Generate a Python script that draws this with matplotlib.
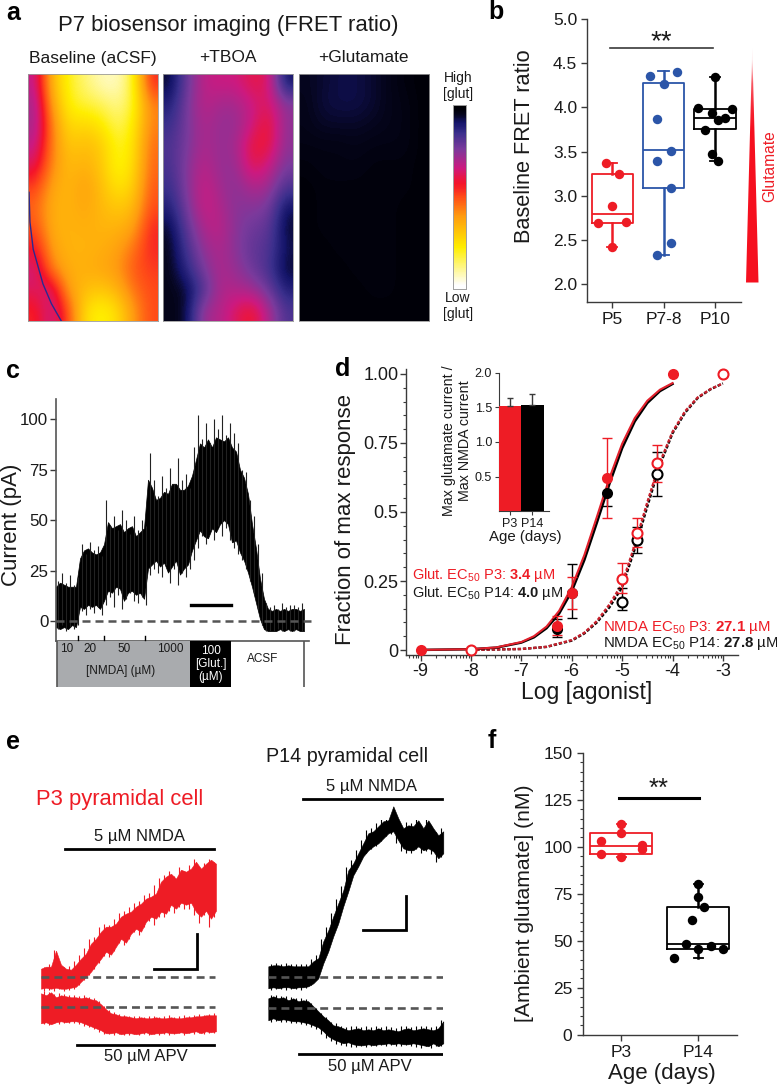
import numpy as np
import matplotlib
matplotlib.use('Agg')
import matplotlib.pyplot as plt
from matplotlib.colors import LinearSegmentedColormap
from matplotlib.patches import Polygon, Rectangle
from matplotlib.ticker import FixedLocator, NullFormatter

plt.rcParams['font.family'] = ['Liberation Sans', 'DejaVu Sans']
plt.rcParams['mathtext.fontset'] = 'custom'
plt.rcParams['mathtext.rm'] = 'Liberation Sans'
plt.rcParams['mathtext.bf'] = 'Liberation Sans:bold'
plt.rcParams['mathtext.default'] = 'regular'

W, H = 777, 1087
RED = '#ee1c25'
BLUE = '#2b55a8'
INK = '#1a1a1a'
AXC = '#3a3a3a'
DASH = '#555555'

# ---------- panel a data ----------
baseline_grid = [
    [.68, .30, .16, .10, .05, .04, .14, .55],
    [.72, .36, .17, .14, .12, .08, .14, .42],
    [.72, .42, .22, .24, .20, .11, .18, .42],
    [.68, .42, .27, .30, .27, .15, .20, .45],
    [.62, .40, .30, .33, .28, .15, .22, .46],
    [.52, .35, .31, .37, .30, .20, .25, .48],
    [.46, .33, .32, .35, .31, .27, .30, .50],
    [.50, .33, .32, .33, .32, .32, .36, .55],
    [.58, .36, .32, .32, .33, .36, .44, .55],
    [.66, .42, .33, .33, .35, .38, .48, .52],
    [.62, .66, .36, .30, .27, .32, .44, .50],
    [.55, .68, .50, .22, .16, .22, .38, .50],
]
tboa_grid = [
    [.97, .80, .68, .66, .66, .60, .62, .95],
    [.92, .78, .68, .72, .72, .66, .62, .75],
    [.88, .78, .70, .74, .74, .66, .56, .75],
    [.85, .78, .70, .74, .72, .58, .58, .75],
    [.86, .76, .68, .74, .74, .60, .66, .78],
    [.88, .76, .66, .72, .76, .70, .72, .85],
    [.92, .78, .66, .70, .76, .76, .78, .95],
    [.97, .82, .70, .68, .76, .80, .82, .97],
    [.98, .86, .74, .70, .76, .82, .84, .95],
    [.98, .90, .78, .70, .74, .80, .86, .97],
    [.98, .97, .85, .70, .70, .72, .80, .92],
    [.98, .97, .72, .70, .62, .56, .70, .85],
]
glut_grid = [
    [.975, .965, .955, .955, .965, .98, .99, .995],
    [.98, .96, .955, .955, .965, .98, .985, .995],
    [.98, .97, .97, .97, .975, .98, .985, .995],
    [.985, .985, .985, .98, .985, .985, .985, .995],
    [.99, .985, .985, .985, .99, .99, .99, .995],
    [.995, .99, .99, .99, .99, .99, .99, .995],
    [.995, .99, .99, .99, .99, .99, .995, .995],
    [.995, .99, .99, .99, .99, .99, .995, .995],
    [.995, .995, .99, .99, .99, .99, .995, .995],
    [.995, .995, .995, .99, .99, .99, .995, .995],
    [.995, .995, .995, .995, .99, .99, .995, .995],
    [.995, .995, .995, .995, .995, .995, .995, .995],
]
cbar_levels = [0, .03, .06, .09, .12, .15, .18, .22, .26, .30, .34, .38, .42, .46, .50, .54, .57, .60,
               .64, .68, .72, .76, .80, .84, .88, .92, .95, .98, 1]
edge_x = [.008, .015, .04, .115, .18, .256]
edge_y = [.48, .60, .71, .85, .93, 1.0]
image_titles = ['Baseline (aCSF)', '+TBOA', '+Glutamate']

# ---------- panel b data ----------
b_labels = ['P5', 'P7-8', 'P10']
b_stats = [(2.42, 2.69, 2.79, 3.25, 3.37), (2.33, 3.09, 3.52, 4.28, 4.41), (3.39, 3.755, 3.88, 3.985, 4.34)]
p5_x = [-.13, .136, 0, -.27, .27, 0]
p5_y = [3.37, 3.245, 2.88, 2.69, 2.70, 2.42]
p78_x = [-.27, .27, 0, -.13, .136, -.13, .136, .136, -.13]
p78_y = [4.36, 4.40, 4.27, 3.87, 3.51, 3.39, 3.09, 2.47, 2.33]
p10_x = [0, -.33, .34, -.065, .2, .065, -.195, -.065, .065]
p10_y = [4.34, 3.99, 3.985, 3.94, 3.88, 3.86, 3.75, 3.47, 3.39]

# ---------- panel c data (time, dense core and spike peaks of the current in pA) ----------
c_hi = [17, 19, 18, 17, 17, 17, 31, 35, 36, 34, 33, 34, 38, 49, 46, 47, 48, 44, 46, 47, 42, 44, 46, 70, 66, 60, 61,
        64, 63, 68, 68, 65, 65, 67, 72, 80, 88, 86, 90, 86, 91, 90, 89, 91, 86, 84, 75, 71, 63, 48, 36, 21, 11,
        6, 5, 6, 5, 6, 5, 6, 6, 5, 6]
c_lo = [-3, -4, -3, -4, -2, -3, 7, 6, 8, 7, 8, 6, 10, 15, 14, 17, 16, 10, 14, 15, 13, 14, 11, 26, 28, 30, 27, 29,
        24, 27, 30, 23, 26, 28, 35, 40, 45, 42, 41, 46, 44, 48, 50, 48, 39, 40, 34, 30, 24, 17, 9, 1, -4,
        -5, -5, -5, -4, -5, -4, -5, -4, -5, -5]
c_spike_hi = [20, 24, 19, 23, 18, 22, 38, 33, 39, 35, 37, 32, 60, 47, 52, 45, 55, 50, 43, 52, 45, 50, 47, 83, 70, 62,
              72, 66, 76, 68, 81, 70, 73, 66, 86, 102, 90, 98, 88, 100, 95, 102, 92, 98, 93, 88, 75, 74, 60, 52, 38,
              24, 9, 7, 8, 6, 9, 7, 8, 8, 7, 9, 8]
c_spike_lo = [-4, -2, -5, -3, -4, -2, 5, 3, 6, 4, 7, 3, 8, 12, 7, 13, 6, 11, 14, 10, 9, 12, 8, 23, 26, 24, 22, 28, 19,
              26, 18, 24, 22, 26, 30, 36, 42, 38, 45, 40, 47, 42, 46, 40, 36, 33, 30, 26, 20, 14, 6, -2, -5,
              -5, -5, -4, -5, -4, -5, -5, -4, -5, -5]
c_time = [4 * k for k in range(len(c_hi))]
c_spike_time = [4 * k + 2 for k in range(len(c_hi))]
c_ticks = [0, 25, 50, 75, 100]

# ---------- panel d data ----------
glut_log = [-9, -8, -7.5, -7, -6.75, -6.5, -6.25, -6, -5.75, -5.5, -5.25, -5, -4.75, -4.5, -4.25, -4]
glut_fit_p3 = [.0003, .003, .0093, .029, .05, .085, .142, .228, .344, .483, .624, .747, .84, .903, .943, .967]
glut_fit_p14 = [.0003, .0028, .0085, .027, .046, .079, .132, .213, .326, .462, .603, .731, .828, .895, .938, .964]
nmda_log = [-8, -7, -6.5, -6, -5.75, -5.5, -5.25, -5, -4.75, -4.5, -4.25, -4, -3.75, -3.5, -3.25, -3]
nmda_fit_p3 = [.0004, .0037, .0116, .036, .0625, .105, .165, .24, .38, .535, .68, .79, .865, .915, .945, .966]
nmda_fit_p14 = [.0004, .0036, .0112, .034, .06, .10, .155, .228, .365, .52, .67, .785, .86, .913, .944, .966]

g3_x = [-9, -6.3, -6, -5.3, -4]
g3_y = [0, .087, .208, .622, 1.0]
g3_up = [0, .124, .266, .767, 1.0]
g3_dn = [0, .055, .147, .477, 1.0]
g14_x = [-6.3, -6, -5.3]
g14_y = [.075, .208, .568]
g14_up = [.111, .312, .622]
g14_dn = [.048, .115, .522]
n3_x = [-8, -5, -4.7, -4.3, -3]
n3_y = [0, .258, .425, .676, 1.0]
n3_up = [0, .314, .477, .743, 1.0]
n3_dn = [0, .205, .374, .61, 1.0]
n14_x = [-5, -4.7, -4.3]
n14_y = [.175, .399, .638]
n14_up = [.223, .447, .718]
n14_dn = [.145, .35, .559]

inset_labels = ['P3', 'P14']
inset_vals = [1.52, 1.53]
inset_err = [.12, .16]

# ---------- panel e data (arbitrary current units, envelopes every 5 time units, spikes midway) ----------
e_time = [5 * k for k in range(36)]
e_spike_time = [5 * k + 2.5 for k in range(35)]
p3_nmda_hi = [8, 10, 10, 26, 12, 8, 7, 12, 18, 23, 33, 38, 45, 50, 50, 53, 60, 63, 65, 70, 73, 78, 80, 83, 95, 100,
              103, 98, 107, 105, 108, 115, 108, 113, 117, 113]
p3_nmda_lo = [-12, -11, -12, -11, -12, -12, -11, -10, -5, 0, 5, 12, 18, 25, 22, 30, 38, 34, 43, 48, 45, 55, 60, 58,
              65, 63, 72, 68, 74, 72, 74, 65, 60, 66, 58, 66]
p3_nmda_spike_hi = [10, 13, 27, 14, 10, 11, 16, 22, 29, 38, 40, 50, 53, 52, 58, 64, 66, 70, 74, 76, 82, 84, 92, 99,
                    102, 106, 101, 110, 106, 112, 118, 110, 114, 118, 115]
p3_nmda_spike_lo = [-14, -13, -14, -12, -14, -13, -12, -8, -3, 2, 8, 14, 21, 20, 26, 34, 32, 38, 45, 42, 50, 56, 52,
                    60, 60, 66, 64, 70, 68, 68, 62, 54, 62, 50, 60]
p3_apv_hi = [14, 12, 15, 10, 12, 11, 10, 10, 9, 10, 8, 7, 3, -2, -6, -7, -9, -9, -10, -11, -10, -11, -11, -10, -11,
             -11, -10, -11, -11, -10, -10, -9, -9, -8, -8, -8]
p3_apv_lo = [-16, -15, -17, -15, -14, -15, -14, -14, -15, -17, -19, -21, -23, -26, -26, -25, -27, -26, -26, -27, -26,
             -25, -27, -26, -26, -25, -26, -26, -25, -26, -25, -24, -26, -24, -25, -24]
p3_apv_spike_hi = [16, 15, 13, 14, 13, 12, 12, 11, 12, 10, 9, 6, 1, -3, -5, -7, -8, -9, -9, -9, -10, -9, -9, -10, -9,
                   -8, -10, -9, -8, -9, -8, -7, -8, -7, -6]
p3_apv_spike_lo = [-17, -18, -16, -17, -16, -16, -16, -17, -19, -20, -22, -25, -27, -27, -28, -27, -28, -28, -27, -28,
                   -27, -28, -27, -28, -27, -28, -27, -26, -28, -26, -27, -26, -27, -26, -26]
p14_nmda_hi = [11, 12, 12, 11, 12, 11, 11, 11, 11, 16, 19, 36, 47, 61, 74, 87, 107, 114, 124, 134, 144, 146, 151,
               156, 157, 171, 159, 149, 152, 151, 157, 149, 157, 149, 142, 146]
p14_nmda_lo = [-11, -10, -11, -10, -10, -11, -10, -10, -9, -6, -1, 14, 26, 41, 54, 71, 86, 102, 111, 121, 127, 131,
               134, 139, 144, 146, 137, 129, 127, 127, 131, 127, 129, 126, 119, 124]
p14_nmda_spike_hi = [13, 14, 13, 14, 13, 13, 13, 13, 18, 22, 38, 50, 64, 78, 91, 110, 117, 127, 137, 147, 149, 154,
                     159, 160, 173, 162, 152, 155, 154, 160, 152, 160, 152, 145, 149]
p14_nmda_spike_lo = [-13, -12, -12, -13, -12, -12, -13, -11, -8, -3, 10, 22, 37, 50, 66, 82, 98, 108, 118, 124, 128,
                     131, 136, 141, 143, 134, 126, 124, 124, 128, 124, 126, 123, 115, 120]
p14_apv_hi = [10, 12, 10, 11, 8, 10, 7, 8, 7, 2, -3, -8, -12, -17, -18, -20, -22, -21, -20, -22, -21, -22, -20, -22,
              -21, -22, -23, -21, -20, -22, -21, -20, -21, -22, -20, -13]
p14_apv_lo = [-12, -10, -12, -11, -12, -13, -13, -14, -15, -17, -19, -23, -28, -31, -33, -35, -34, -36, -37, -37, -36,
              -37, -36, -36, -35, -36, -35, -36, -36, -35, -36, -37, -38, -35, -38, -35]
p14_apv_spike_hi = [13, 13, 12, 12, 11, 10, 10, 9, 5, 0, -5, -9, -14, -15, -18, -19, -18, -18, -19, -18, -19, -18,
                    -19, -18, -19, -20, -18, -18, -19, -18, -18, -18, -19, -18, -12]
p14_apv_spike_lo = [-14, -13, -14, -14, -15, -15, -16, -17, -19, -21, -26, -30, -33, -36, -37, -38, -39, -39, -38, -39,
                    -38, -38, -37, -38, -37, -38, -38, -37, -38, -39, -40, -38, -40, -38, -38]

# ---------- panel f data ----------
f_labels = ['P3', 'P14']
f_stats = [(94.7, 96.2, 100.4, 107.5, 112), (40.8, 45.8, 48, 67.8, 80)]
f3_x = [0, 0, -.264, .268, .268, -.264, 0]
f3_y = [112, 107.4, 103.2, 100.7, 99, 96.3, 94.7]
f14_x = [0, 0, .08, -.08, -.16, .165, 0, .32, -.316]
f14_y = [80, 73.4, 67.9, 61, 48, 47.2, 45.7, 45.4, 40.8]

fig = plt.figure(figsize=(W / 100, H / 100), dpi=100, facecolor='white')


def axpx(x0, y0, x1, y1, **kw):
    return fig.add_axes([x0 / W, 1 - y1 / H, (x1 - x0) / W, (y1 - y0) / H], **kw)


def T(x, y, s, size=12, color=INK, ha='center', va='center', **kw):
    return fig.text(x / W, 1 - y / H, s, fontsize=size, color=color, ha=ha, va=va, **kw)


for lab, x, y in [('a', 13, 13), ('b', 496, 12), ('c', 13, 371), ('d', 343, 369), ('e', 13, 742), ('f', 492, 741)]:
    T(x, y, lab, size=18, color='black', fontweight='bold')

# ---------- a ----------
cmap = LinearSegmentedColormap.from_list('fret', [
    (0, '#ffffff'), (.18, '#ffee00'), (.38, '#ff9a10'), (.50, '#ff4a18'), (.57, '#f5142a'), (.66, '#cc1a80'),
    (.78, '#7a3a9c'), (.88, '#3a2f8c'), (.94, '#15156a'), (.975, '#060620'), (1, '#000004')])
T(228, 26, 'P7 biosensor imaging (FRET ratio)', size=15.9)
for (x0, grid, title) in zip([28, 163, 298.5], [baseline_grid, tboa_grid, glut_grid], image_titles):
    ax = axpx(x0, 73.5, x0 + 130, 321)
    ax.imshow(np.array(grid), cmap=cmap, vmin=0, vmax=1, aspect='auto', interpolation='bicubic', extent=(0, 1, 1, 0))
    ax.set_xticks([])
    ax.set_yticks([])
    for s in ax.spines.values():
        s.set_color('#9a9a9a')
        s.set_linewidth(.6)
    if title == image_titles[0]:
        ax.plot(edge_x, edge_y, color='#2a2a90', lw=1)
    ax.set_xlim(0, 1)
    ax.set_ylim(1, 0)
    T(x0 + 65, 58, title, size=12.5)
cax = axpx(453, 105, 465.5, 289)
cax.imshow(np.array(cbar_levels)[:, None][::-1], cmap=cmap, vmin=0, vmax=1, aspect='auto', interpolation='bilinear')
cax.set_xticks([])
cax.set_yticks([])
for s in cax.spines.values():
    s.set_color('#a0a0a0')
    s.set_linewidth(.7)
T(458, 86, 'High\n[glut]', size=10, linespacing=1.15)
T(458, 306, 'Low\n[glut]', size=10, linespacing=1.15)


def boxes(ax, stats, colors, width, capw, lw=1.3):
    for i, (st, c) in enumerate(zip(stats, colors)):
        lo, q1, med, q3, hi = st
        d = dict(whislo=lo, q1=q1, med=med, q3=q3, whishi=hi, fliers=[])
        ax.bxp([d], positions=[i], widths=width, capwidths=capw, showfliers=False, manage_ticks=False,
               boxprops=dict(color=c, lw=lw), medianprops=dict(color=c, lw=lw), whiskerprops=dict(color=c, lw=lw + .5),
               capprops=dict(color=c, lw=lw))


# ---------- b ----------
ax = axpx(587, 19, 740.7, 302)
ax.set_xlim(-.493, 2.503)
ax.set_ylim(1.8, 5.0)
boxes(ax, b_stats, [RED, BLUE, 'black'], .81, .2)
for i, (xs, ys, c) in enumerate([(p5_x, p5_y, RED), (p78_x, p78_y, BLUE), (p10_x, p10_y, 'black')]):
    ax.plot(np.array(xs) + i, ys, 'o', color=c, ms=6.8, mew=0, zorder=5)
ax.plot([-.04, 1.97], [4.67, 4.67], color=AXC, lw=1.2)
ax.text(.96, 4.735, '**', fontsize=20, ha='center', va='center', color=INK)
ax.set_xticks(range(3), b_labels)
ax.set_yticks([2, 2.5, 3, 3.5, 4, 4.5, 5], ['2.0', '2.5', '3.0', '3.5', '4.0', '4.5', '5.0'])
ax.tick_params(labelsize=12.5, length=4.5, width=1, color=AXC, labelcolor=INK, pad=2.5)
for s in ['top', 'right']:
    ax.spines[s].set_visible(False)
for s in ['left', 'bottom']:
    ax.spines[s].set_color(AXC)
    ax.spines[s].set_linewidth(1)
T(525, 146, 'Baseline FRET ratio', size=15.7, rotation=90)
tri = axpx(746, 48, 758.5, 282.5)
tri.axis('off')
im = tri.imshow(np.array([[.1], [.7], [.9], [1], [1], [1], [1], [1], [1], [1]]),
                cmap=LinearSegmentedColormap.from_list('w', ['#ffffff', '#f5101f']), aspect='auto', extent=(0, 1, 0, 1),
                interpolation='bilinear', vmin=0, vmax=1)
poly = Polygon([(0, 0), (1, 0), (.5, 1)], closed=True, transform=tri.transData, fc='none', ec='none')
tri.add_patch(poly)
im.set_clip_path(poly)
T(770, 166, 'Glutamate', size=11.2, color=RED, rotation=90)

# ---------- c ----------
ax = axpx(56, 399, 309, 640.7)
ax.set_xlim(0, 253)
ax.set_ylim(-9.75, 110)
ax.fill_between(c_time, c_lo, c_hi, color='black', lw=.5)
ax.vlines(c_spike_time[:-1], c_spike_lo[:-1], c_spike_hi[:-1], color='#222222', lw=.8)
ax.plot([0, 258], [0, 0], color=DASH, lw=1.8, dashes=(3.2, 2), zorder=4, clip_on=False)
ax.plot([135, 175.5], [8, 8], color='black', lw=2.4)
ax.set_xticks([])
ax.set_yticks(c_ticks)
ax.tick_params(labelsize=12.2, length=4.5, width=1, color=AXC, labelcolor=INK, pad=1)
for s in ['top', 'right']:
    ax.spines[s].set_visible(False)
for s in ['left', 'bottom']:
    ax.spines[s].set_color('#555555')
    ax.spines[s].set_linewidth(1.2)
T(12, 525, 'Current (pA)', size=16, rotation=90)
st = axpx(56, 641, 309, 687)
st.set_xlim(0, 253)
st.set_ylim(1, 0)
st.axis('off')
st.add_patch(Rectangle((.5, 0), 133.5, 1, fc='#a9abae', ec='none'))
st.add_patch(Rectangle((134, 0), 41, 1, fc='black', ec='none'))
st.plot([.5, .5], [0, 1], color='#555555', lw=1.2)
st.plot([248, 248], [0, 1], color='#555555', lw=1.2)
for x in [22, 48, 89]:
    st.plot([x, x], [-.03, -.1], color='black', lw=1, clip_on=False)
for x, s in [(11, '10'), (34, '20'), (68, '50'), (114, '1000')]:
    st.text(x, .18, s, fontsize=8.5, ha='center', va='center', color=INK)
st.text(65, .645, '[NMDA] (µM)', fontsize=8.5, ha='center', va='center', color=INK)
st.text(154.5, .5, '100\n[Glut.]\n(µM)', fontsize=8.5, ha='center', va='center', color='white', linespacing=1.15)
st.text(207, .39, 'ACSF', fontsize=8.5, ha='center', va='center', color=INK)

# ---------- d ----------
ax = axpx(406, 369, 738, 655)
ax.set_xlim(-9.29, -2.7)
ax.set_ylim(-.0181, 1.0181)
ax.plot(nmda_log, nmda_fit_p14, color='black', lw=1.7, ls=(0, (1.4, .8)), zorder=2)
ax.plot(nmda_log, nmda_fit_p3, color='#c8202c', lw=1.7, ls=(0, (1.4, .8)), zorder=2)
ax.plot(glut_log, glut_fit_p14, color='black', lw=1.8, zorder=2)
ax.plot(glut_log, glut_fit_p3, color='#e2202c', lw=1.5, zorder=2)


def err(x, y, up, dn, c):
    a = np.array(y)
    ax.errorbar(x, y, yerr=[a - np.array(dn), np.array(up) - a], fmt='none', ecolor=c, elinewidth=1, capsize=3.5,
                capthick=1, zorder=3)


err(g14_x, g14_y, g14_up, g14_dn, 'black')
ax.plot(g14_x, g14_y, 'o', color='black', ms=8, mew=0, zorder=4)
err(n14_x, n14_y, n14_up, n14_dn, 'black')
ax.plot(n14_x, n14_y, 'o', mfc='white', mec='black', ms=7.2, mew=1.5, zorder=4)
err(g3_x, g3_y, g3_up, g3_dn, RED)
ax.plot(g3_x, g3_y, 'o', color=RED, ms=8, mew=0, zorder=5, clip_on=False)
err(n3_x, n3_y, n3_up, n3_dn, RED)
ax.plot(n3_x, n3_y, 'o', mfc='white', mec=RED, ms=7.2, mew=1.5, zorder=5, clip_on=False)
ax.set_xticks([-9, -8, -7, -6, -5, -4, -3], ['-9', '-8', '-7', '-6', '-5', '-4', '-3'])
ax.set_yticks([0, .25, .5, .75, 1], ['0', '0.25', '0.5', '0.75', '1.00'])
ax.xaxis.set_minor_locator(FixedLocator([d + np.log10(m) for d in range(-10, -2) for m in range(2, 10)]))
ax.yaxis.set_minor_locator(FixedLocator([.05 * k for k in range(21)]))
ax.xaxis.set_minor_formatter(NullFormatter())
ax.tick_params(axis='both', which='major', labelsize=13, length=4.5, width=1, color=AXC, labelcolor=INK, pad=1)
ax.tick_params(axis='both', which='minor', length=2.5, width=.8, color=AXC)
for s in ['top', 'right']:
    ax.spines[s].set_visible(False)
for s in ['left', 'bottom']:
    ax.spines[s].set_color(AXC)
    ax.spines[s].set_linewidth(1)
T(345, 520, 'Fraction of max response', size=16, rotation=90)
T(587, 693, 'Log [agonist]', size=16.5)
T(411.5, 575, r'Glut. EC$_{50}$ P3: $\mathbf{3.4}$ µM', size=10.5, color=RED, ha='left')
T(411.5, 593, r'Glut. EC$_{50}$ P14: $\mathbf{4.0}$ µM', size=10.5, ha='left')
T(603, 627, r'NMDA EC$_{50}$ P3: $\mathbf{27.1}$ µM', size=10.8, color=RED, ha='left')
T(603, 643, r'NMDA EC$_{50}$ P14: $\mathbf{27.8}$ µM', size=10.8, ha='left')

ins = axpx(499, 372.7, 549, 511.3)
ins.set_xlim(-.25, 1.95)
ins.set_ylim(0, 2)
ins.bar([0.22, 1.22], inset_vals, width=.98, color=[RED, 'black'],
        yerr=[[0, 0], inset_err], error_kw=dict(ecolor=AXC, elinewidth=1, capsize=2.5, capthick=1), zorder=3)
ins.set_xticks([0.22, 1.22], inset_labels)
ins.set_yticks([.5, 1, 1.5, 2], ['0.5', '1.0', '1.5', '2.0'])
ins.tick_params(labelsize=9, length=3, width=.8, color=AXC, labelcolor=INK, pad=2)
for s in ['top', 'right']:
    ins.spines[s].set_visible(False)
for s in ['left', 'bottom']:
    ins.spines[s].set_color(AXC)
    ins.spines[s].set_linewidth(.8)
T(525, 537, 'Age (days)', size=10.8)
T(457, 441, 'Max glutamate current /\nMax NMDA current', size=10.3, rotation=90, linespacing=1.2, ma='center')

# ---------- e ----------
e1 = axpx(41, 820, 216, 1070)
e1.set_xlim(0, 175)
e1.set_ylim(-93.3, 156.7)
e1.axis('off')
off = -30.6
e1.fill_between(e_time, p3_nmda_lo, p3_nmda_hi, color=RED, lw=.4, clip_on=False)
e1.vlines(e_spike_time, p3_nmda_spike_lo, p3_nmda_spike_hi, color=RED, lw=.8)
e1.fill_between(e_time, np.array(p3_apv_lo) + off, np.array(p3_apv_hi) + off, color=RED, lw=.4, clip_on=False)
e1.vlines(e_spike_time, np.array(p3_apv_spike_lo) + off, np.array(p3_apv_spike_hi) + off, color=RED, lw=.8)
e1.plot([0, 174], [0, 0], color=DASH, lw=1.9, dashes=(3, 1.9), zorder=4)
e1.plot([0, 174], [off, off], color=DASH, lw=1.9, dashes=(3, 1.9), zorder=4)
e1.plot([24, 173], [127.7, 127.7], color='black', lw=2)
e1.plot([36, 173], [-68.3, -68.3], color='black', lw=2)
e1.plot([113, 155.7, 155.7], [8, 8, 42.7], color='black', lw=2, solid_joinstyle='miter')
T(139, 837, '5 µM NMDA', size=12)
T(146, 1057, '50 µM APV', size=12)
T(36, 800, 'P3 pyramidal cell', size=15.8, color=RED, ha='left')

e2 = axpx(268.3, 820, 443.3, 1070)
e2.set_xlim(0, 175)
e2.set_ylim(-92.7, 157.3)
e2.axis('off')
off2 = -31
e2.fill_between(e_time, p14_nmda_lo, p14_nmda_hi, color='black', lw=.4, clip_on=False)
e2.vlines(e_spike_time, p14_nmda_spike_lo, p14_nmda_spike_hi, color='black', lw=.8)
e2.fill_between(e_time, np.array(p14_apv_lo) + off2, np.array(p14_apv_hi) + off2, color='black', lw=.4, clip_on=False)
e2.vlines(e_spike_time, np.array(p14_apv_spike_lo) + off2, np.array(p14_apv_spike_hi) + off2, color='black', lw=.8)
e2.plot([0, 175], [0, 0], color=DASH, lw=1.9, dashes=(3, 1.9), zorder=4)
e2.plot([0, 175], [off2, off2], color=DASH, lw=1.9, dashes=(3, 1.9), zorder=4)
e2.plot([34.7, 174], [178.3, 178.3], color='black', lw=2, clip_on=False)
e2.plot([31, 174], [-76.7, -76.7], color='black', lw=2)
e2.plot([95, 137.7, 137.7], [47.3, 47.3, 81.6], color='black', lw=2, solid_joinstyle='miter')
T(372, 787, '5 µM NMDA', size=12)
T(370, 1066, '50 µM APV', size=12)
T(266, 756, 'P14 pyramidal cell', size=14.2, ha='left')

# ---------- f ----------
ax = axpx(582.7, 752.7, 736.7, 1034.7)
ax.set_xlim(-.5, 1.5)
ax.set_ylim(0, 150)
boxes(ax, f_stats, [RED, 'black'], .805, .12)
for i, (xs, ys, c) in enumerate([(f3_x, f3_y, RED), (f14_x, f14_y, 'black')]):
    ax.plot(np.array(xs) + i, ys, 'o', color=c, ms=6.8, mew=0, zorder=5)
ax.plot([-.03, 1.01], [126, 126], color='black', lw=2.2)
ax.text(.49, 131, '**', fontsize=18.5, ha='center', va='center', color=INK)
ax.set_xticks([0, 1], f_labels)
ax.set_yticks([0, 25, 50, 75, 100, 125, 150])
ax.yaxis.set_minor_locator(FixedLocator(list(range(0, 151, 5))))
ax.tick_params(axis='both', which='major', labelsize=12.5, length=4.5, width=1, color=AXC, labelcolor=INK, pad=3)
ax.tick_params(axis='y', which='minor', length=2.5, width=.8, color=AXC)
for s in ['top', 'right']:
    ax.spines[s].set_visible(False)
for s in ['left', 'bottom']:
    ax.spines[s].set_color(AXC)
    ax.spines[s].set_linewidth(1)
T(525, 903, '[Ambient glutamate] (nM)', size=15.2, rotation=90)
T(662, 1073, 'Age (days)', size=16)

fig.savefig('out.png', dpi=100)
